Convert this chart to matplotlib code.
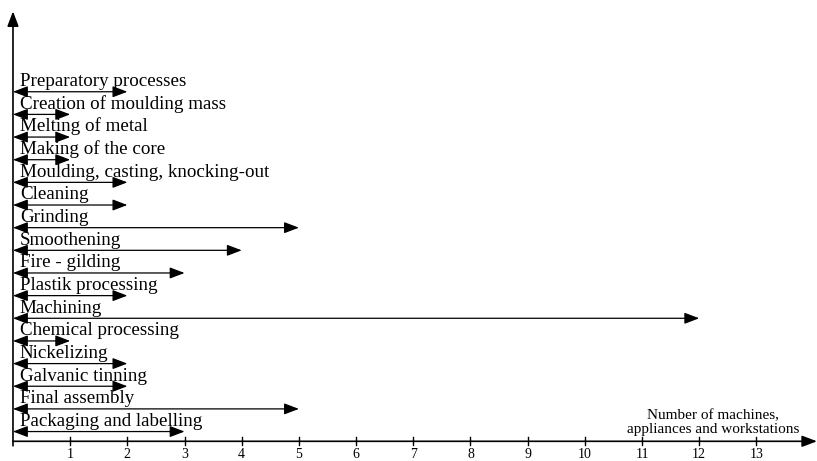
import matplotlib
matplotlib.use("Agg")
import matplotlib.pyplot as plt

plt.rcParams["font.family"] = ["Liberation Serif", "DejaVu Serif"]

# Data
processes = [
    "Preparatory processes",
    "Creation of moulding mass",
    "Melting of metal",
    "Making of the core",
    "Moulding, casting, knocking-out",
    "Cleaning",
    "Grinding",
    "Smoothening",
    "Fire - gilding",
    "Plastik processing",
    "Machining",
    "Chemical processing",
    "Nickelizing",
    "Galvanic tinning",
    "Final assembly",
    "Packaging and labelling",
]
machines = [2, 1, 1, 1, 2, 2, 5, 4, 3, 2, 12, 1, 2, 2, 5, 3]
ticks = list(range(1, 14))
axis_label = "Number of machines,\nappliances and workstations"

# Layout: full-figure axes, rows counted from the top
fig = plt.figure(figsize=(8.17, 4.61), dpi=100)
ax = fig.add_axes([0, 0, 1, 1])
ax.set_xlim(-0.227, 14.06)
ax.set_ylim(16.30, -4.05)
ax.axis("off")

x_axis_y = 15.43
arrow_kw = dict(arrowstyle="<|-|>,head_length=0.5,head_width=0.19",
                color="black", lw=0.9, shrinkA=0, shrinkB=0, mutation_scale=18)

for i, (name, val) in enumerate(zip(processes, machines)):
    ax.annotate("", xy=(val, i), xytext=(0, i), arrowprops=arrow_kw)
    ax.annotate(name, xy=(0, i), xytext=(5, 4), textcoords="offset points",
                fontsize=13.7, va="baseline", ha="left")

# axes with arrows
ax.annotate("", xy=(14.06, x_axis_y), xytext=(0, x_axis_y),
            arrowprops=dict(arrowstyle="-|>,head_length=0.5,head_width=0.19",
                            color="black", lw=1.2, shrinkA=0, shrinkB=0,
                            mutation_scale=18))
ax.annotate("", xy=(0, -3.55), xytext=(0, x_axis_y + 0.2),
            arrowprops=dict(arrowstyle="-|>,head_length=0.5,head_width=0.19",
                            color="black", lw=1.2, shrinkA=0, shrinkB=0,
                            mutation_scale=18))

for t in ticks:
    ax.plot([t, t], [x_axis_y - 0.18, x_axis_y + 0.18], color="black", lw=1)
    ax.text(t, x_axis_y + 0.3, str(t), fontsize=10, ha="center", va="top")

ax.text(12.25, x_axis_y - 0.25, axis_label, fontsize=11, ha="center",
        va="bottom", linespacing=1.0)

fig.savefig("out.png", dpi=100)
